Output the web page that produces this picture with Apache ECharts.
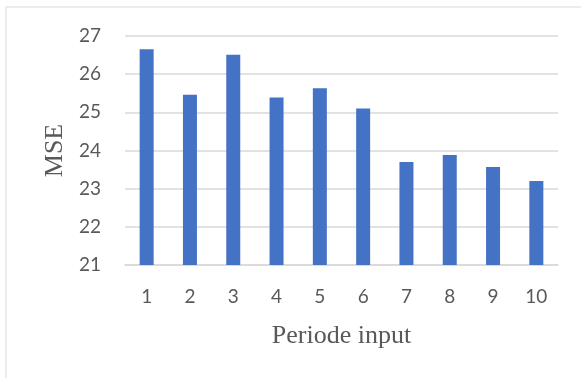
<!DOCTYPE html>
<html>
<head>
<meta charset="utf-8">
<script src="https://cdn.jsdelivr.net/npm/echarts@6/dist/echarts.min.js"></script>
<style>html,body{margin:0;padding:0;background:#fff;}#c{width:581px;height:378px;}</style>
</head>
<body>
<div id="c"></div>
<script>
const categories = ['1','2','3','4','5','6','7','8','9','10'];
const mseValues = [26.65, 25.46, 26.51, 25.39, 25.63, 25.10, 23.70, 23.88, 23.57, 23.20];
const yTicks = { min: 21, max: 27, interval: 1 };
const xTitle = 'Periode input';
const yTitle = 'MSE';

const chart = echarts.init(document.getElementById('c'), null, { renderer: 'canvas' });
chart.setOption({
  animation: false,
  backgroundColor: '#ffffff',
  graphic: [{
    type: 'rect',
    shape: { x: 6, y: 7, width: 700, height: 500 },
    style: { fill: 'none', stroke: '#d9d9d9', lineWidth: 1 },
    silent: true
  }],
  grid: { left: 125, right: 23, top: 36, bottom: 113 },
  xAxis: {
    type: 'category',
    data: categories,
    axisLine: { show: true, lineStyle: { color: '#d9d9d9', width: 1.5 } },
    axisTick: { show: false },
    axisLabel: { color: '#595959', fontSize: 19, fontFamily: 'Lato', margin: 22 },
    name: xTitle,
    nameLocation: 'middle',
    nameGap: 58,
    nameTextStyle: { color: '#595959', fontSize: 26, fontFamily: 'Liberation Serif' }
  },
  yAxis: {
    type: 'value',
    min: yTicks.min,
    max: yTicks.max,
    interval: yTicks.interval,
    axisLine: { show: false },
    axisTick: { show: false },
    splitLine: { lineStyle: { color: '#d9d9d9', width: 1.5 } },
    axisLabel: { color: '#595959', fontSize: 19, fontFamily: 'Lato', margin: 24 },
    name: yTitle,
    nameLocation: 'middle',
    nameRotate: 90,
    nameGap: 57,
    nameTextStyle: { color: '#595959', fontSize: 26, fontFamily: 'Liberation Serif' }
  },
  series: [{
    type: 'bar',
    data: mseValues,
    barWidth: 14,
    itemStyle: { color: '#4472C4' }
  }]
});
</script>
</body>
</html>
